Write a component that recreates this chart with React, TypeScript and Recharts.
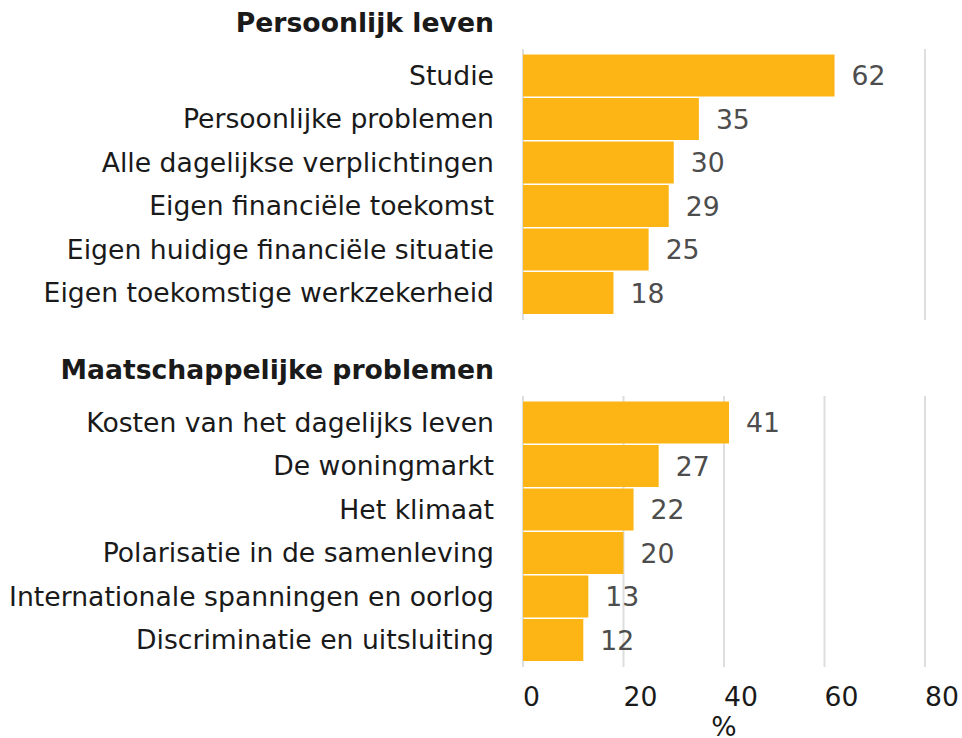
import React from 'react';
import { BarChart, Bar, XAxis, YAxis, CartesianGrid, LabelList } from 'recharts';

const personalTitle = 'Persoonlijk leven';
const personalCategories = [
  'Studie',
  'Persoonlijke problemen',
  'Alle dagelijkse verplichtingen',
  'Eigen financiële toekomst',
  'Eigen huidige financiële situatie',
  'Eigen toekomstige werkzekerheid',
];
const personalValues = [62, 35, 30, 29, 25, 18];

const societyTitle = 'Maatschappelijke problemen';
const societyCategories = [
  'Kosten van het dagelijks leven',
  'De woningmarkt',
  'Het klimaat',
  'Polarisatie in de samenleving',
  'Internationale spanningen en oorlog',
  'Discriminatie en uitsluiting',
];
const societyValues = [41, 27, 22, 20, 13, 12];

const xTicks = [0, 20, 40, 60, 80];
const xLabel = '%';

const FONT = '"DejaVu Sans", Verdana, sans-serif';
const FS = 26.67;
const BAR_COLOR = '#FDB515';
const GRID_COLOR = '#dedede';

const YTick = (props: any) => {
  const { x, y, payload } = props;
  return (
    <text x={x - 29} y={y} dy="0.36em" textAnchor="end" fontFamily={FONT} fontSize={FS} fill="#1a1a1a">
      {payload.value}
    </text>
  );
};

const XTick = (props: any) => {
  const { x, y, payload } = props;
  return (
    <text x={x} y={y + 39} textAnchor="start" fontFamily={FONT} fontSize={FS} fill="#1a1a1a">
      {payload.value}
    </text>
  );
};

const ValueLabel = (props: any) => {
  const { x, y, width, height, value } = props;
  return (
    <text x={x + width + 17} y={y + height / 2} dy="0.36em" textAnchor="start" fontFamily={FONT} fontSize={FS} fill="#4d4d4d">
      {value}
    </text>
  );
};

const XAxisLabel = (props: any) => {
  const vb = props.viewBox || {};
  return (
    <text x={vb.x + vb.width / 2} y={vb.y + 69} textAnchor="middle" fontFamily={FONT} fontSize={FS} fill="#1a1a1a">
      {xLabel}
    </text>
  );
};

type PanelProps = {
  title: string;
  categories: string[];
  values: number[];
  top: number;
  showAxis: boolean;
};

const Panel = ({ title, categories, values, top, showAxis }: PanelProps) => {
  const data = categories.map((name, i) => ({ name, value: values[i] }));
  const height = showAxis ? 391 : 330;
  return (
    <div style={{ position: 'absolute', left: 0, top, width: 962, height }}>
      <BarChart
        width={962}
        height={height}
        data={data}
        layout="vertical"
        margin={{ top: 49, right: 37, bottom: showAxis ? 0 : 10, left: 0 }}
        barCategoryGap={1}
      >
        <CartesianGrid horizontal={false} vertical={true} stroke={GRID_COLOR} strokeWidth={2} />
        <XAxis
          type="number"
          domain={[0, 80]}
          ticks={xTicks}
          axisLine={false}
          tickLine={false}
          tickSize={0}
          tickMargin={0}
          height={showAxis ? 71 : 0}
          tick={showAxis ? <XTick /> : false}
          label={showAxis ? <XAxisLabel /> : undefined}
        />
        <YAxis
          type="category"
          dataKey="name"
          width={523}
          axisLine={false}
          tickLine={false}
          tickSize={0}
          tickMargin={0}
          padding={{ top: 4.5, bottom: 5.5 }}
          tick={<YTick />}
          interval={0}
        />
        <Bar dataKey="value" fill={BAR_COLOR} isAnimationActive={false}>
          <LabelList dataKey="value" content={<ValueLabel />} />
        </Bar>
      </BarChart>
      <svg
        width={962}
        height={45}
        style={{ position: 'absolute', left: 0, top: 0, pointerEvents: 'none' }}
      >
        <text x={494} y={32} textAnchor="end" fontFamily={FONT} fontSize={FS} fontWeight="bold" fill="#1a1a1a">
          {title}
        </text>
      </svg>
    </div>
  );
};

export default function App() {
  return (
    <div style={{ position: 'absolute', left: 0, top: 0, width: 962, height: 738, background: '#ffffff' }}>
      <Panel title={personalTitle} categories={personalCategories} values={personalValues} top={0} showAxis={false} />
      <Panel title={societyTitle} categories={societyCategories} values={societyValues} top={347} showAxis={true} />
    </div>
  );
}
